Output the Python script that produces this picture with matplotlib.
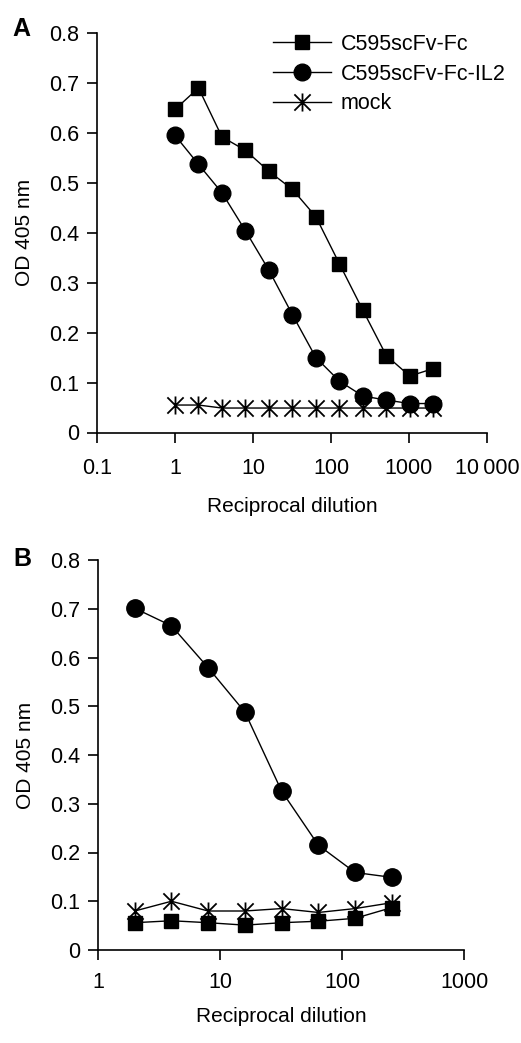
import numpy as np
import matplotlib
matplotlib.use("Agg")
import matplotlib.pyplot as plt
from matplotlib.path import Path
from matplotlib.ticker import FixedLocator, FixedFormatter, NullLocator

plt.rcParams['font.family'] = ['Liberation Sans', 'DejaVu Sans']

# panel A data
dil_a = [1, 2, 4, 8, 16, 32, 64, 128, 256, 512, 1024, 2048]
fc_a = [0.647, 0.690, 0.592, 0.565, 0.523, 0.487, 0.432, 0.338, 0.245, 0.154, 0.113, 0.128]
il2_a = [0.595, 0.537, 0.480, 0.404, 0.325, 0.236, 0.150, 0.103, 0.073, 0.065, 0.058, 0.058]
mock_a = [0.055, 0.055, 0.049, 0.049, 0.049, 0.049, 0.049, 0.049, 0.049, 0.049, 0.049, 0.049]

# panel B data
dil_b = [2, 4, 8, 16, 32, 64, 128, 256]
fc_b = [0.056, 0.060, 0.056, 0.051, 0.056, 0.059, 0.065, 0.087]
il2_b = [0.701, 0.665, 0.579, 0.488, 0.326, 0.215, 0.159, 0.149]
mock_b = [0.080, 0.100, 0.080, 0.080, 0.085, 0.077, 0.085, 0.097]

labels = ['C595scFv-Fc', 'C595scFv-Fc-IL2', 'mock']
xt_a = [0.1, 1, 10, 100, 1000, 10000]
xtl_a = ['0.1', '1', '10', '100', '1000', '10\u2009000']
xt_b = [1, 10, 100, 1000]
xtl_b = ['1', '10', '100', '1000']
yt = [0, 0.1, 0.2, 0.3, 0.4, 0.5, 0.6, 0.7, 0.8]
ytl = ['0', '0.1', '0.2', '0.3', '0.4', '0.5', '0.6', '0.7', '0.8']

W, H = 521, 1043
fig = plt.figure(figsize=(W / 100, H / 100), dpi=100)

def box(l, t, r, b):
    return [l / W, 1 - b / H, (r - l) / W, (b - t) / H]

ax_a = fig.add_axes(box(97, 33, 487, 432.5))
ax_b = fig.add_axes(box(98, 560, 464, 950))

# excel-style star: vertical bar plus an X
star = Path([(0, -1), (0, 1), (-0.9, -0.9), (0.9, 0.9), (-0.9, 0.9), (0.9, -0.9)],
            [Path.MOVETO, Path.LINETO, Path.MOVETO, Path.LINETO, Path.MOVETO, Path.LINETO])

def style(ax, xt, xtl, xlim, xpad, lpad):
    ax.set_xscale('log')
    ax.set_xlim(*xlim)
    ax.set_ylim(0, 0.8)
    ax.xaxis.set_major_locator(FixedLocator(xt))
    ax.xaxis.set_major_formatter(FixedFormatter(xtl))
    ax.xaxis.set_minor_locator(NullLocator())
    ax.set_yticks(yt)
    ax.set_yticklabels(ytl)
    for s in ['top', 'right']:
        ax.spines[s].set_visible(False)
    for s in ['left', 'bottom']:
        ax.spines[s].set_linewidth(1.2)
    ax.tick_params(direction='out', length=7, width=1.2, labelsize=15.5)
    ax.tick_params(axis='y', pad=6)
    ax.tick_params(axis='x', pad=xpad)
    ax.set_ylabel('OD 405 nm', fontsize=15, labelpad=11)
    ax.set_xlabel('Reciprocal dilution', fontsize=15, labelpad=lpad)

ax_a.plot(dil_a, fc_a, color='black', lw=1, marker='s', ms=9.5, label=labels[0], clip_on=False)
ax_a.plot(dil_a, il2_a, color='black', lw=1, marker='o', ms=12, label=labels[1], clip_on=False)
ax_a.plot(dil_a, mock_a, color='black', lw=1, marker=star, ms=13, mew=1.3, mfc='none',
          label=labels[2], clip_on=False)
style(ax_a, xt_a, xtl_a, (0.1, 10000), 11, 13)
ax_a.legend(loc='upper left', bbox_to_anchor=(273 / W, 1 - 34 / H), bbox_transform=fig.transFigure,
            frameon=False, fontsize=15.5, handlelength=2.7, handletextpad=0.45, labelspacing=0.4,
            borderpad=0, borderaxespad=0)

ax_b.plot(dil_b, mock_b, color='black', lw=1, marker=star, ms=13, mew=1.3, mfc='none', clip_on=False)
ax_b.plot(dil_b, fc_b, color='black', lw=1, marker='s', ms=10.5, clip_on=False)
ax_b.plot(dil_b, il2_b, color='black', lw=1, marker='o', ms=12.5, clip_on=False)
style(ax_b, xt_b, xtl_b, (1, 1000), 9, 10)

fig.text(12 / W, 1 - 29 / H, 'A', fontsize=18, fontweight='bold', va='center', ha='left')
fig.text(13 / W, 1 - 559 / H, 'B', fontsize=18, fontweight='bold', va='center', ha='left')

fig.savefig('out.png', dpi=100)
